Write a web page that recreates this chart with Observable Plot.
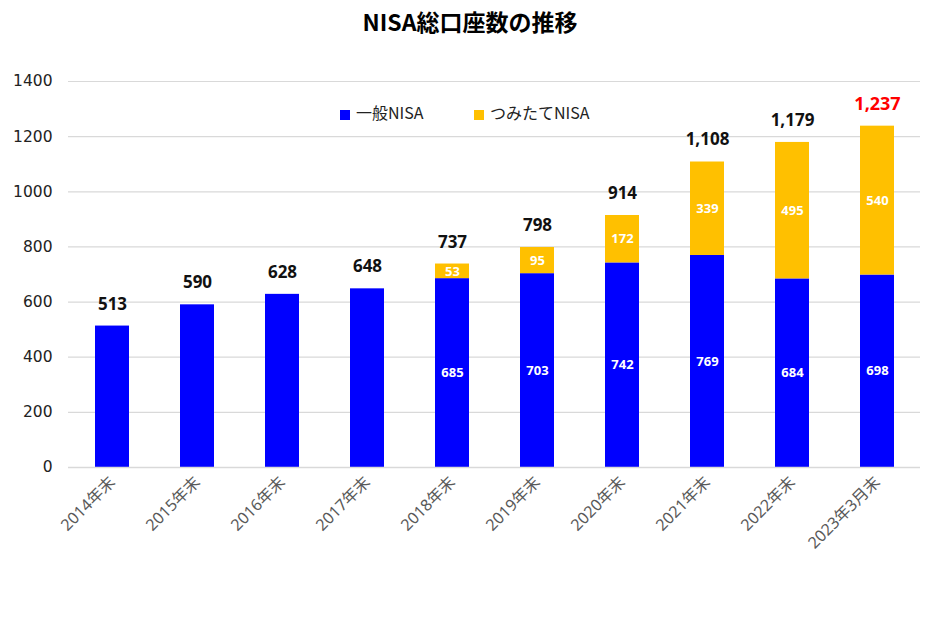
<!DOCTYPE html>
<html>
<head>
<meta charset="utf-8">
<script src="https://cdn.jsdelivr.net/npm/d3@7"></script>
<script src="https://cdn.jsdelivr.net/npm/@observablehq/plot@0.6"></script>
<style>
  body { margin: 0; background: #fff; font-family: "Noto Sans", "Noto Sans CJK JP", sans-serif; }
  #wrap { position: relative; width: 940px; height: 622px; overflow: hidden; }
  #title { position: absolute; left: 0; top: 5px; width: 940px; text-align: center; font: bold 23px "Noto Sans CJK JP", sans-serif; color: #000; line-height: 32px; }
  #legend { position: absolute; top: 100px; left: 0; width: 940px; font: 16px "Noto Sans CJK JP", sans-serif; color: #222; }
  .item { position: absolute; top: 0; line-height: 24px; white-space: nowrap; }
  .sw { display: inline-block; width: 10px; height: 10px; margin-right: 6px; vertical-align: -1px; }
  #chart { position: absolute; left: 0; top: 0; }
</style>
</head>
<body>
<div id="wrap">
  <div id="chart"></div>
  <div id="title">NISA総口座数の推移</div>
  <div id="legend">
    <div class="item" style="left:340px"><span class="sw" style="background:#0000FF"></span>一般NISA</div>
    <div class="item" style="left:474px"><span class="sw" style="background:#FFC000"></span>つみたてNISA</div>
  </div>
</div>
<script>
const years = ["2014年末","2015年末","2016年末","2017年末","2018年末","2019年末","2020年末","2021年末","2022年末","2023年3月末"];
const general = [513, 590, 628, 648, 685, 703, 742, 769, 684, 698];
const tsumitate = [0, 0, 0, 0, 53, 95, 172, 339, 495, 540];
const totals = [513, 590, 628, 648, 737, 798, 914, 1108, 1179, 1237];
const yTicks = [0, 200, 400, 600, 800, 1000, 1200, 1400];
const seriesNames = ["一般NISA", "つみたてNISA"];
const seriesColors = ["#0000FF", "#FFC000"];

const long = [];
years.forEach((y, i) => {
  long.push({year: y, series: seriesNames[0], value: general[i], label: tsumitate[i] > 0});
  long.push({year: y, series: seriesNames[1], value: tsumitate[i], label: tsumitate[i] > 0});
});
const totalData = years.map((y, i) => ({year: y, total: totals[i], last: i === years.length - 1}));

const chart = Plot.plot({
  width: 940,
  height: 622,
  marginTop: 81,
  marginBottom: 155,
  marginLeft: 68,
  marginRight: 20,
  style: {fontFamily: "'Noto Sans', 'Noto Sans CJK JP', sans-serif", background: "transparent"},
  x: {domain: years, paddingInner: 0.6, paddingOuter: 0.3, label: null},
  y: {domain: [0, 1400], label: null},
  color: {domain: seriesNames, range: seriesColors},
  marks: [
    Plot.gridY(yTicks, {stroke: "#d9d9d9", strokeOpacity: 1, strokeWidth: 1.2}),
    Plot.axisY({ticks: yTicks, tickSize: 0, tickPadding: 16, tickFormat: d => String(d), fontSize: 15.5, fontFamily: "'DejaVu Sans', sans-serif", fill: "#222", label: null}),
    Plot.barY(long, {x: "year", y: "value", fill: "series", z: "series", order: seriesNames}),
    Plot.ruleY([0], {stroke: "#d9d9d9", strokeWidth: 1.5}),
    Plot.axisX({tickSize: 0, tickRotate: -45, tickPadding: 12, fontSize: 16, fill: "#595959", label: null}),
    Plot.text(long, Plot.stackY({x: "year", y: "value", z: "series", order: seriesNames, text: d => d.label ? String(d.value) : "", fill: "white", fontWeight: "bold", fontSize: 13})),
    Plot.text(totalData, {x: "year", y: "total", text: d => d3.format(",")(d.total), dy: -22, fontWeight: "bold", fontSize: d => d.last ? 18 : 17, fill: d => d.last ? "#FF0000" : "#111"})
  ]
});
document.getElementById("chart").appendChild(chart);
</script>
</body>
</html>
